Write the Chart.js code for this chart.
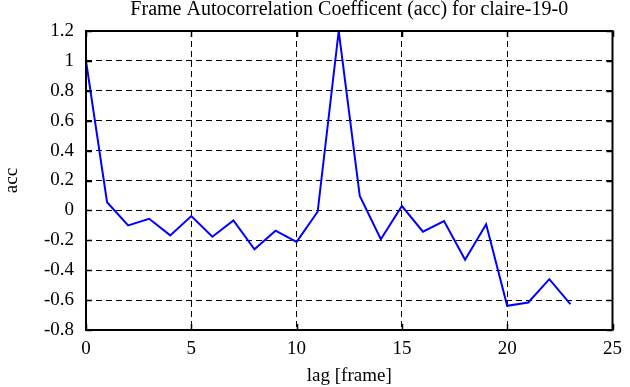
<!DOCTYPE html>
<html>
<head>
<meta charset="utf-8">
<script src="https://cdn.jsdelivr.net/npm/chart.js@4.4.1/dist/chart.umd.min.js"></script>
<style>
  html, body { margin: 0; padding: 0; background: #fff; }
  #wrap { width: 630px; height: 387px; }
</style>
</head>
<body>
<div id="wrap"><canvas id="myChart" width="630" height="387"></canvas></div>
<script>
// lag values (frames) and autocorrelation
var lags = [0, 1, 2, 3, 4, 5, 6, 7, 8, 9, 10, 11, 12, 13, 14, 15, 16, 17, 18, 19, 20, 21, 22, 23];
var acc = [1.0, 0.055, -0.10, -0.056, -0.167, -0.038, -0.176, -0.067, -0.26, -0.136,
           -0.211, -0.009, 1.2, 0.096, -0.193, 0.029, -0.142, -0.071, -0.33, -0.093,
           -0.638, -0.616, -0.46, -0.627];
var xTicks = [0, 5, 10, 15, 20, 25];
var yTicks = [-0.8, -0.6, -0.4, -0.2, 0, 0.2, 0.4, 0.6, 0.8, 1, 1.2];
var chartTitle = 'Frame Autocorrelation Coefficent (acc) for claire-19-0';

var serif = 'Liberation Serif';

// box round the plot, short inward ticks on all four sides, title over the plot
var frameBox = {
	id: 'frameBox',
	afterDraw: function(chart) {
		var ctx = chart.ctx;
		var a = chart.chartArea;
		var xs = chart.scales.x, ys = chart.scales.y;
		ctx.save();
		ctx.strokeStyle = '#000';
		ctx.lineWidth = 1.5;
		ctx.setLineDash([]);
		ctx.beginPath();
		xTicks.forEach(function(v) {
			var px = Math.round(xs.getPixelForValue(v)) + 0.5;
			ctx.moveTo(px, a.bottom); ctx.lineTo(px, a.bottom - 6);
			ctx.moveTo(px, a.top); ctx.lineTo(px, a.top + 6);
		});
		yTicks.forEach(function(v) {
			var py = Math.round(ys.getPixelForValue(v)) + 0.5;
			ctx.moveTo(a.left, py); ctx.lineTo(a.left + 6, py);
			ctx.moveTo(a.right, py); ctx.lineTo(a.right - 6, py);
		});
		ctx.stroke();
		ctx.lineWidth = 2;
		ctx.strokeRect(a.left, a.top, a.right - a.left, a.bottom - a.top);

		ctx.fillStyle = '#000';
		ctx.font = '20px "' + serif + '"';
		ctx.textAlign = 'center';
		ctx.textBaseline = 'alphabetic';
		ctx.fillText(chartTitle, (a.left + a.right) / 2, 15);
		ctx.restore();
	}
};

var points = lags.map(function(l, i) { return { x: l, y: acc[i] }; });

var ctx = document.getElementById('myChart').getContext('2d');
var myChart = new Chart(ctx, {
	type: 'line',
	data: {
		datasets: [{
			label: 'acc',
			data: points,
			borderColor: '#0000ff',
			borderWidth: 2,
			pointRadius: 0,
			tension: 0,
			fill: false
		}]
	},
	options: {
		responsive: false,
		animation: false,
		layout: { padding: { left: 0, right: 16, top: 31, bottom: 0 } },
		plugins: {
			legend: { display: false },
			tooltip: { enabled: false },
			title: { display: false }
		},
		scales: {
			x: {
				type: 'linear',
				min: 0,
				max: 25,
				afterBuildTicks: function(scale) {
					scale.ticks = xTicks.map(function(v) { return { value: v }; });
				},
				afterFit: function(scale) { scale.height = 57; },
				ticks: {
					color: '#000',
					padding: 8,
					maxRotation: 0,
					font: { family: serif, size: 19 },
					callback: function(v) { return String(v); }
				},
				grid: {
					color: '#000',
					lineWidth: 1,
					drawTicks: false
				},
				border: { display: false, dash: [6, 4] },
				title: {
					display: true,
					text: 'lag [frame]',
					color: '#000',
					font: { family: serif, size: 19 },
					padding: { top: 4, bottom: 0 }
				}
			},
			y: {
				type: 'linear',
				min: -0.8,
				max: 1.2,
				afterBuildTicks: function(scale) {
					scale.ticks = yTicks.map(function(v) { return { value: v }; });
				},
				afterFit: function(scale) { scale.width = 86; },
				ticks: {
					color: '#000',
					padding: 12,
					font: { family: serif, size: 19 },
					callback: function(v) { return String(Math.round(v * 10) / 10); }
				},
				grid: {
					color: '#000',
					lineWidth: 1,
					drawTicks: false
				},
				border: { display: false, dash: [6, 4] },
				title: {
					display: true,
					text: 'acc',
					color: '#000',
					font: { family: serif, size: 19 },
					padding: { top: 1, bottom: 0 }
				}
			}
		}
	},
	plugins: [frameBox]
});
</script>
</body>
</html>
